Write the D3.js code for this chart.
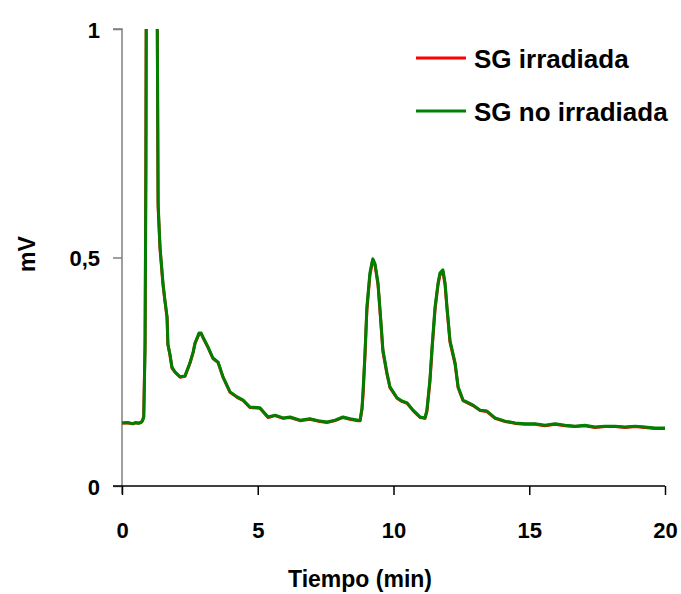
<!DOCTYPE html>
<html><head><meta charset="utf-8">
<script src="https://cdn.jsdelivr.net/npm/d3@7"></script>
<style>body{margin:0;background:#fff}</style>
</head><body>
<svg id="c" width="681" height="594"></svg>
<script>
const times = [0,0.2,0.4,0.5,0.6,0.7,0.75,0.8,0.85,0.88,0.9,0.95,1.0,1.2,1.28,1.30,1.33,1.40,1.51,1.58,1.66,1.69,1.77,1.84,1.95,2.14,2.32,2.50,2.62,2.69,2.84,2.91,2.98,3.17,3.35,3.54,3.72,3.98,4.24,4.46,4.71,5.08,5.38,5.64,5.93,6.19,6.56,6.92,7.29,7.55,7.85,8.14,8.40,8.69,8.77,8.84,8.88,8.95,9.02,9.13,9.21,9.24,9.32,9.43,9.54,9.61,9.76,9.87,10.13,10.31,10.50,10.72,10.98,11.16,11.23,11.34,11.42,11.53,11.64,11.71,11.82,11.90,11.97,12.08,12.27,12.38,12.56,12.93,13.19,13.44,13.74,14.11,14.48,14.84,15.21,15.58,15.95,16.32,16.69,17.05,17.42,17.79,18.16,18.53,18.9,19.26,19.63,20.0];
const noIrradiada = [0.138,0.139,0.136,0.139,0.137,0.139,0.142,0.150,0.30,0.70,1.2,1.6,2.0,1.8,1.2,1.0,0.62,0.523,0.444,0.407,0.37,0.31,0.287,0.26,0.25,0.239,0.241,0.269,0.293,0.313,0.335,0.335,0.326,0.304,0.28,0.271,0.239,0.206,0.195,0.188,0.173,0.171,0.151,0.155,0.149,0.151,0.144,0.147,0.142,0.140,0.144,0.151,0.147,0.144,0.144,0.171,0.21,0.291,0.392,0.466,0.49,0.497,0.486,0.444,0.357,0.298,0.247,0.217,0.193,0.186,0.182,0.166,0.151,0.149,0.166,0.232,0.304,0.392,0.444,0.466,0.473,0.444,0.392,0.319,0.269,0.217,0.188,0.177,0.166,0.164,0.149,0.142,0.138,0.136,0.136,0.133,0.136,0.133,0.131,0.133,0.129,0.131,0.131,0.129,0.131,0.129,0.127,0.127];
const irradiada = [0.138,0.138,0.137,0.138,0.138,0.139,0.143,0.152,0.32,0.72,1.2,1.6,2.0,1.8,1.2,1.0,0.61,0.52,0.44,0.405,0.368,0.31,0.285,0.258,0.249,0.238,0.240,0.268,0.292,0.312,0.333,0.334,0.325,0.303,0.279,0.270,0.238,0.205,0.194,0.187,0.172,0.170,0.150,0.154,0.148,0.150,0.143,0.146,0.141,0.139,0.143,0.150,0.146,0.143,0.143,0.168,0.20,0.285,0.385,0.46,0.487,0.494,0.483,0.44,0.352,0.294,0.245,0.215,0.192,0.185,0.181,0.165,0.150,0.148,0.163,0.226,0.298,0.386,0.44,0.462,0.469,0.44,0.388,0.315,0.266,0.215,0.187,0.176,0.165,0.163,0.148,0.141,0.137,0.135,0.135,0.132,0.135,0.132,0.130,0.132,0.128,0.130,0.130,0.128,0.130,0.128,0.126,0.126];
const xTicks = [0,5,10,15,20];
const yTicks = [0,0.5,1];
const yTickLabels = ["0","0,5","1"];
const seriesNames = ["SG irradiada","SG no irradiada"];
const seriesColors = ["#ff0000","#008000"];

const svg = d3.select("#c");
const L=122,R=665,T=29,B=486;
const x = d3.scaleLinear().domain([0,20]).range([L,R]);
const y = d3.scaleLinear().domain([0,1]).range([B,T]);
const font = "'Liberation Sans', Arial, sans-serif";

svg.append("defs").append("clipPath").attr("id","clip")
  .append("rect").attr("x",L-2).attr("y",T).attr("width",R-L+6).attr("height",B-T+2);

// y axis
const ya = svg.append("g").attr("transform",`translate(${L},0)`)
  .call(d3.axisLeft(y).tickValues(yTicks).tickSize(9).tickFormat((d,i)=>yTickLabels[i]));
ya.select(".domain").attr("stroke","#808080").attr("stroke-width",1.5).attr("d",`M-9,${T}H0V${B+8}`);
ya.selectAll(".tick line").attr("stroke","#808080").attr("stroke-width",1.5);
ya.selectAll(".tick text").attr("x",-22).attr("dy",null).attr("y",8).style("font-family",font).style("font-size","22px").style("font-weight","bold").attr("fill","#000");

// x axis
const xa = svg.append("g").attr("transform",`translate(0,${B})`)
  .call(d3.axisBottom(x).tickValues(xTicks).tickSize(9).tickSizeOuter(0));
xa.select(".domain").attr("stroke","#000").attr("stroke-width",1.5).attr("d",`M${L-9},0H${R}`);
xa.selectAll(".tick line").attr("stroke","#000").attr("stroke-width",1.5);
xa.selectAll(".tick text").attr("y",52).attr("dy",null).style("font-family",font).style("font-size","22px").style("font-weight","bold").attr("fill","#000");

const line = d3.line().x((d,i)=>x(times[i])).y(d=>y(d));
const g = svg.append("g").attr("clip-path","url(#clip)");
[irradiada,noIrradiada].forEach((s,k)=>{
  g.append("path").datum(s).attr("d",line).attr("fill","none")
   .attr("stroke",seriesColors[k]).attr("stroke-width",3).attr("stroke-linejoin","round");
});

// labels
svg.append("text").attr("x",360).attr("y",587).attr("text-anchor","middle")
  .style("font-family",font).style("font-size","23px").style("font-weight","bold").text("Tiempo (min)");
svg.append("text").attr("transform","translate(35,254) rotate(-90)").attr("text-anchor","middle")
  .style("font-family",font).style("font-size","23px").style("font-weight","bold").text("mV");

// legend
const lg = svg.append("g");
seriesNames.forEach((n,i)=>{
  const yy = 58 + i*53;
  lg.append("line").attr("x1",416).attr("x2",466).attr("y1",yy).attr("y2",yy).attr("stroke",seriesColors[i]).attr("stroke-width",3);
  lg.append("text").attr("x",474).attr("y",yy+10).style("font-family",font).style("font-size","26px").style("font-weight","bold").text(n);
});
</script>
</body></html>
